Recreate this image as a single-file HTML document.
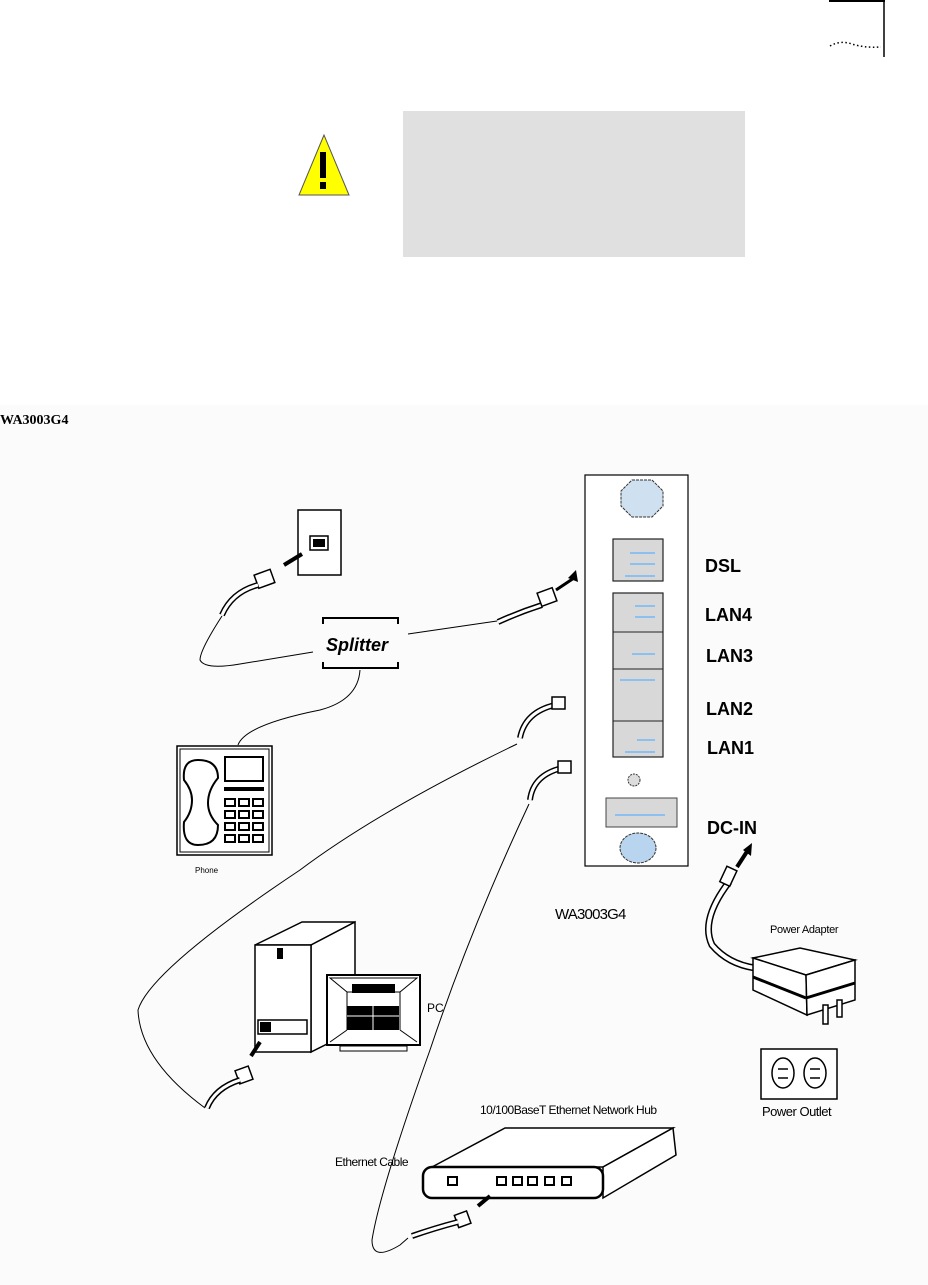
<!DOCTYPE html>
<html><head><meta charset="utf-8"><style>
html,body{margin:0;padding:0;background:#fff;}
body{width:928px;height:1285px;position:relative;overflow:hidden;font-family:"Liberation Sans",sans-serif;}
svg{position:absolute;left:0;top:0;}
</style></head><body>
<svg width="928" height="1285" viewBox="0 0 928 1285" xmlns="http://www.w3.org/2000/svg">
<rect x="0" y="405" width="928" height="880" fill="#fbfbfb"/>
<!-- corner mark -->
<line x1="829" y1="1" x2="885" y2="1" stroke="#000" stroke-width="2"/>
<line x1="884" y1="0" x2="884" y2="57" stroke="#000" stroke-width="1.5"/>
<path d="M830,46 Q840,40 852,44 T881,47" fill="none" stroke="#000" stroke-width="1.5" stroke-dasharray="1.5,2.5"/>
<!-- warning -->
<rect x="403" y="111" width="342" height="146" fill="#e0e0e0"/>
<polygon points="324,135 299,195 349,195" fill="#ffff00" stroke="#555" stroke-width="1"/>
<rect x="320" y="152" width="6" height="26" fill="#000"/>
<rect x="320" y="182" width="6" height="7" fill="#000"/>
<text x="0" y="424" font-family="Liberation Serif,serif" font-weight="bold" font-size="14">WA3003G4</text>

<!-- wall jack -->
<rect x="298" y="510" width="43" height="65" fill="#fff" stroke="#000" stroke-width="1.5"/>
<rect x="310" y="536" width="18" height="14" fill="none" stroke="#000" stroke-width="1.5"/>
<rect x="313" y="539" width="12" height="8" fill="#000"/>
<line x1="284" y1="565" x2="302" y2="554" stroke="#000" stroke-width="4"/>
<rect x="256" y="572" width="17" height="14" fill="#fff" stroke="#000" stroke-width="1.5" transform="rotate(-20 264 579)"/>
<path d="M222,615 Q232,592 258,585" fill="none" stroke="#000" stroke-width="6"/>
<path d="M222,615 Q232,592 258,585" fill="none" stroke="#fff" stroke-width="3"/>
<!-- cables -->
<path d="M222,616 Q200,650 200,660 Q205,670 240,664 L313,652" fill="none" stroke="#000" stroke-width="1"/>
<path d="M408,634 L497,621" fill="none" stroke="#000" stroke-width="1"/>
<path d="M360,670 Q358,700 320,710 Q245,725 238,745" fill="none" stroke="#000" stroke-width="1"/>
<!-- splitter -->
<path d="M323,624 V618 H398 V624 M323,662 V668 H398 V662" fill="none" stroke="#000" stroke-width="2"/>
<text x="326" y="651" font-size="18" font-weight="bold" font-style="italic">Splitter</text>
<!-- DSL connector -->
<path d="M498,622 Q520,612 542,605" fill="none" stroke="#000" stroke-width="6"/>
<path d="M498,622 Q520,612 542,605" fill="none" stroke="#fff" stroke-width="3"/>
<rect x="539" y="590" width="16" height="14" fill="#fff" stroke="#000" stroke-width="1.5" transform="rotate(-20 547 597)"/>
<line x1="556" y1="590" x2="574" y2="578" stroke="#000" stroke-width="3"/>
<polygon points="576,570 578,582 568,578" fill="#000"/>
<!-- LAN2 connector -->
<path d="M520,738 Q525,712 555,705" fill="none" stroke="#000" stroke-width="6"/>
<path d="M520,738 Q525,712 555,705" fill="none" stroke="#fff" stroke-width="3"/>
<rect x="552" y="697" width="13" height="12" fill="#fff" stroke="#000" stroke-width="1.5"/>
<!-- LAN1 connector -->
<path d="M530,800 Q533,775 562,768" fill="none" stroke="#000" stroke-width="6"/>
<path d="M530,800 Q533,775 562,768" fill="none" stroke="#fff" stroke-width="3"/>
<rect x="558" y="761" width="13" height="12" fill="#fff" stroke="#000" stroke-width="1.5"/>
<!-- long cables -->
<path d="M517,744 Q380,810 300,870 Q150,970 138,1010 Q140,1060 205,1108" fill="none" stroke="#000" stroke-width="1"/>
<path d="M529,804 Q470,930 430,1050 Q380,1190 372,1240 Q372,1262 400,1245 L408,1238" fill="none" stroke="#000" stroke-width="1"/>

<!-- phone -->
<rect x="177" y="746" width="95" height="109" fill="#fff" stroke="#000" stroke-width="1.5"/>
<rect x="180" y="749" width="89" height="103" fill="none" stroke="#000" stroke-width="1"/>
<path d="M198,760 Q182,760 184,780 Q192,790 192,800 Q192,812 184,822 Q182,845 198,845 Q218,845 218,825 Q208,815 208,803 Q208,790 218,778 Q218,760 198,760 Z" fill="#fff" stroke="#000" stroke-width="2"/>
<rect x="225" y="757" width="38" height="24" fill="#fff" stroke="#000" stroke-width="2"/>
<rect x="224" y="787" width="40" height="4" fill="#000"/>
<g fill="#fff" stroke="#000" stroke-width="2">
<rect x="225" y="799" width="10" height="7"/><rect x="239" y="799" width="10" height="7"/><rect x="253" y="799" width="10" height="7"/>
<rect x="225" y="811" width="10" height="7"/><rect x="239" y="811" width="10" height="7"/><rect x="253" y="811" width="10" height="7"/>
<rect x="225" y="823" width="10" height="7"/><rect x="239" y="823" width="10" height="7"/><rect x="253" y="823" width="10" height="7"/>
<rect x="225" y="835" width="10" height="7"/><rect x="239" y="835" width="10" height="7"/><rect x="253" y="835" width="10" height="7"/>
</g>
<text x="195" y="873" font-size="8">Phone</text>

<!-- router -->
<rect x="585" y="475" width="103" height="391" fill="#fff" stroke="#000" stroke-width="1.2"/>
<polygon points="632,480 652,480 663,491 663,506 652,517 632,517 621,506 621,491" fill="#cfe0f0" stroke="#333" stroke-dasharray="3,1"/>
<rect x="613" y="539" width="50" height="42" fill="#d8d8d8" stroke="#222" stroke-width="1.2"/>
<rect x="613" y="593" width="50" height="164" fill="#d8d8d8" stroke="#222" stroke-width="1.2"/>
<line x1="613" y1="632" x2="663" y2="632" stroke="#222"/>
<line x1="613" y1="669" x2="663" y2="669" stroke="#222"/>
<line x1="613" y1="721" x2="663" y2="721" stroke="#222"/>
<g stroke="#8cc0f0" stroke-width="2">
<line x1="630" y1="553" x2="655" y2="553"/><line x1="630" y1="564" x2="655" y2="564"/><line x1="625" y1="576" x2="655" y2="576"/>
<line x1="635" y1="606" x2="655" y2="606"/><line x1="635" y1="617" x2="655" y2="617"/>
<line x1="632" y1="654" x2="655" y2="654"/><line x1="620" y1="680" x2="655" y2="680"/><line x1="625" y1="752" x2="655" y2="752"/><line x1="637" y1="740" x2="655" y2="740"/>
</g>
<circle cx="634" cy="780" r="6" fill="#ddd" stroke="#333" stroke-dasharray="2,1"/>
<rect x="606" y="798" width="71" height="29" fill="#d8d8d8" stroke="#444"/>
<line x1="615" y1="815" x2="665" y2="815" stroke="#8cc0f0" stroke-width="2"/>
<ellipse cx="638" cy="848" rx="18" ry="15" fill="#b8d4ee" stroke="#333" stroke-dasharray="3,1"/>
<g font-size="18" font-weight="bold">
<text x="705" y="572">DSL</text>
<text x="705" y="621">LAN4</text>
<text x="706" y="662">LAN3</text>
<text x="706" y="715">LAN2</text>
<text x="707" y="754">LAN1</text>
<text x="707" y="834">DC-IN</text>
</g>
<text x="555" y="919" font-size="15" letter-spacing="-0.8">WA3003G4</text>

<!-- power adapter -->
<line x1="737" y1="867" x2="748" y2="850" stroke="#000" stroke-width="4"/>
<polygon points="752,843 751,856 743,850" fill="#000"/>
<path d="M729,882 Q700,920 712,945 Q728,964 755,968" fill="none" stroke="#000" stroke-width="7"/>
<path d="M729,882 Q700,920 712,945 Q728,964 755,968" fill="none" stroke="#fff" stroke-width="4"/>
<rect x="723" y="868" width="11" height="17" fill="#fff" stroke="#000" stroke-width="1.5" transform="rotate(25 729 876)"/>
<polygon points="753,958 800,948 855,960 806,975" fill="#fff" stroke="#000" stroke-width="1.5"/>
<polygon points="753,958 806,975 807,1015 753,990" fill="#fff" stroke="#000" stroke-width="1.5"/>
<polygon points="806,975 855,960 855,1000 807,1015" fill="#fff" stroke="#000" stroke-width="1.5"/>
<line x1="753" y1="977" x2="806" y2="998" stroke="#000" stroke-width="3"/>
<line x1="806" y1="998" x2="855" y2="983" stroke="#000" stroke-width="3"/>
<rect x="823" y="1005" width="5" height="19" fill="#fff" stroke="#000" stroke-width="1.5"/>
<rect x="837" y="1000" width="5" height="17" fill="#fff" stroke="#000" stroke-width="1.5"/>
<text x="770" y="933" font-size="11" letter-spacing="-0.3">Power Adapter</text>
<rect x="761" y="1049" width="76" height="50" fill="#fff" stroke="#000" stroke-width="1.5"/>
<ellipse cx="783" cy="1073" rx="11" ry="15" fill="#fff" stroke="#000" stroke-width="1.5"/>
<ellipse cx="815" cy="1073" rx="11" ry="15" fill="#fff" stroke="#000" stroke-width="1.5"/>
<line x1="778" y1="1069" x2="788" y2="1069" stroke="#000" stroke-width="1.5"/><line x1="778" y1="1078" x2="788" y2="1078" stroke="#000" stroke-width="1.5"/>
<line x1="810" y1="1069" x2="820" y2="1069" stroke="#000" stroke-width="1.5"/><line x1="810" y1="1078" x2="820" y2="1078" stroke="#000" stroke-width="1.5"/>
<text x="762" y="1116" font-size="13" letter-spacing="-0.5">Power Outlet</text>

<!-- PC -->
<polygon points="255,945 302,922 355,922 311,945" fill="#fff" stroke="#000" stroke-width="1.5"/>
<polygon points="311,945 355,922 355,1030 311,1052" fill="#fff" stroke="#000" stroke-width="1.5"/>
<rect x="255" y="945" width="56" height="107" fill="#fff" stroke="#000" stroke-width="1.5"/>
<rect x="277" y="948" width="6" height="11" fill="#000"/>
<rect x="258" y="1020" width="49" height="14" fill="#fff" stroke="#000" stroke-width="1.5"/>
<rect x="260" y="1022" width="11" height="10" fill="#000"/>
<rect x="327" y="975" width="93" height="70" fill="#fff" stroke="#000" stroke-width="2"/>
<polygon points="330,978 417,978 400,992 347,992" fill="#fff" stroke="#000"/>
<line x1="330" y1="1042" x2="347" y2="1030" stroke="#000"/><line x1="417" y1="1042" x2="400" y2="1030" stroke="#000"/>
<line x1="347" y1="992" x2="347" y2="1030" stroke="#000"/><line x1="400" y1="992" x2="400" y2="1030" stroke="#000"/>
<rect x="352" y="984" width="43" height="9" fill="#000"/>
<rect x="347" y="1006" width="52" height="24" fill="#000"/>
<line x1="347" y1="1016" x2="399" y2="1016" stroke="#fff"/><line x1="373" y1="1006" x2="373" y2="1030" stroke="#fff"/>
<rect x="340" y="1046" width="67" height="5" fill="#fff" stroke="#000"/>
<text x="427" y="1012" font-size="12">PC</text>
<line x1="251" y1="1056" x2="260" y2="1042" stroke="#000" stroke-width="4"/>
<rect x="237" y="1068" width="14" height="14" fill="#fff" stroke="#000" stroke-width="1.5" transform="rotate(-20 244 1075)"/>
<path d="M207,1108 Q215,1088 240,1080" fill="none" stroke="#000" stroke-width="6"/>
<path d="M207,1108 Q215,1088 240,1080" fill="none" stroke="#fff" stroke-width="3"/>

<!-- hub -->
<polygon points="432,1167 505,1128 673,1128 603,1167" fill="#fff" stroke="#000" stroke-width="1.5"/>
<polygon points="603,1167 673,1128 676,1155 603,1198" fill="#fff" stroke="#000" stroke-width="1.5"/>
<rect x="423" y="1167" width="180" height="31" rx="9" fill="#fff" stroke="#000" stroke-width="2.5"/>
<g fill="#fff" stroke="#000" stroke-width="2">
<rect x="448" y="1177" width="9" height="8"/>
<rect x="497" y="1177" width="9" height="8"/><rect x="513" y="1177" width="9" height="8"/><rect x="528" y="1177" width="9" height="8"/><rect x="562" y="1177" width="9" height="8"/>
<rect x="545" y="1177" width="9" height="8"/>
</g>
<text x="480" y="1114" font-size="12" letter-spacing="-0.5">10/100BaseT Ethernet Network Hub</text>
<text x="335" y="1166" font-size="12" letter-spacing="-0.5">Ethernet Cable</text>
<line x1="478" y1="1206" x2="490" y2="1196" stroke="#000" stroke-width="4"/>
<rect x="456" y="1213" width="13" height="13" fill="#fff" stroke="#000" stroke-width="1.5" transform="rotate(-20 462 1219)"/>
<path d="M412,1236 Q435,1228 458,1222" fill="none" stroke="#000" stroke-width="6"/>
<path d="M412,1236 Q435,1228 458,1222" fill="none" stroke="#fff" stroke-width="3"/>
</svg>
</body></html>
